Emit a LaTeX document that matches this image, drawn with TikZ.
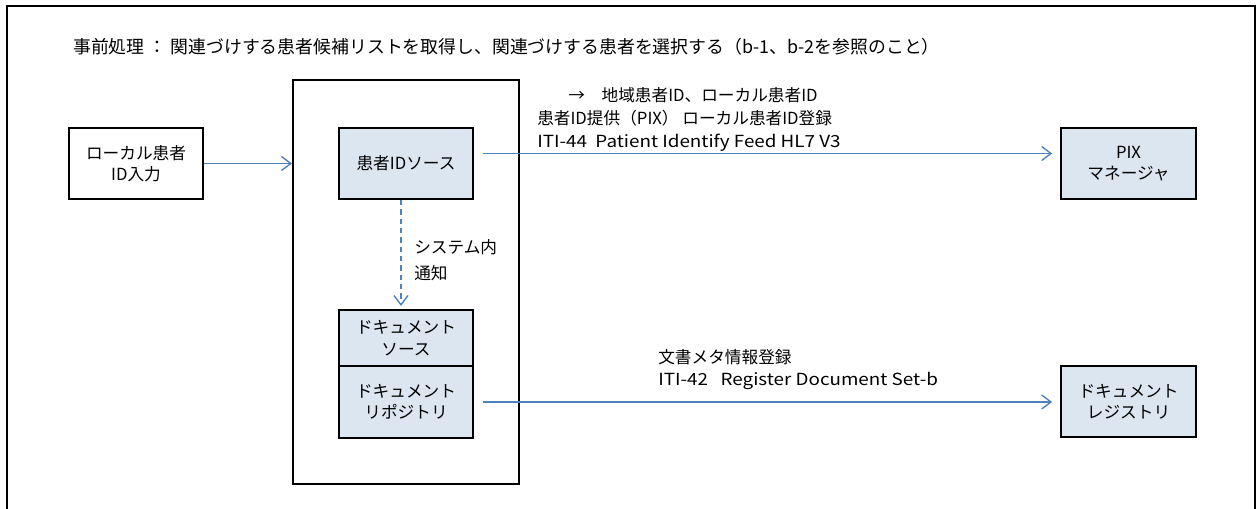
\documentclass[tikz,border=0pt]{standalone}
\usepackage{fontspec}
\setmainfont{Noto Sans CJK JP}
\newfontfamily\jpfont{Noto Sans CJK JP}
\usetikzlibrary{arrows.meta,calc}
\definecolor{boxfill}{HTML}{DCE6F1}
\definecolor{linkblue}{HTML}{4F81BD}
\newcommand{\widen}[1]{\scalebox{1.13}[1]{#1}}
\begin{document}
\begin{tikzpicture}[x=0.75pt,y=-0.75pt,
  actor/.style={draw=black,line width=1.6pt,fill=boxfill,minimum width=101pt,minimum height=53pt,align=center,font=\jpfont\fontsize{12.5}{16}\selectfont,inner sep=0pt},
  plainbox/.style={actor,fill=white},
  flow/.style={draw=linkblue,line width=1pt,-{Straight Barb[length=7pt,width=10.5pt,line width=1pt]}},
  lbl/.style={anchor=west,align=left,inner sep=0pt,font=\jpfont\fontsize{12.5}{20}\selectfont}
]
\useasboundingbox (0,0) rectangle (1258,508);
\fill[white] (0,0) rectangle (1258,508);
% outer frame (open at bottom)
\draw[line width=1.6pt] (7,520) -- (7,6) -- (1255,6) -- (1255,520);
% title
\node[lbl,font=\jpfont\fontsize{13.4}{16}\selectfont] (title) at (73,47) {事前処理 ： 関連づけする患者候補リストを取得し、関連づけする患者を選択する（b-1、b-2を参照のこと）};
% system box
\node[draw=black,line width=1.6pt,minimum width=169.5pt,minimum height=303pt,inner sep=0pt] (sys) at (406,282) {};
% boxes
\node[plainbox] (local) at (136,163.5) {ローカル患者\\ID入力};
\node[actor] (pidsrc) at (406,163.5) {患者IDソース};
\node[actor,minimum height=42pt] (docsrc) at (406,338) {ドキュメント\\ソース};
\node[actor,minimum height=54pt] (docrep) at (406,402) {ドキュメント\\リポジトリ};
\node[actor] (pix) at (1128.5,163.5) {PIX\\マネージャ};
\node[actor] (reg) at (1128.5,401.5) {ドキュメント\\レジストリ};
% connectors
\draw[flow] (local.east) -- (local.east -| sys.west);
\draw[flow] ($(pidsrc.east)+(9,-10)$) coordinate (p1) -- (p1 -| {$(pix.west)+(-8,0)$});
\draw[flow] ($(docrep.east)+(9,0)$) coordinate (p2) -- (p2 -| {$(reg.west)+(-8,0)$});
\draw[flow,dashed,dash pattern=on 4pt off 3pt] ($(pidsrc.south)+(-5,0)$) -- ($(docsrc.north)+(-5,-3)$);
% labels
\node[lbl] (l1) at (568,95) {→　地域患者ID、ローカル患者ID};
\node[lbl] (l2) at (537,118) {患者ID提供（PIX） ローカル患者ID登録};
\node[lbl] (l3) at (537,143) {\widen{ITI-44\ \ Patient Identify Feed HL7 V3}};
\node[lbl] (notif) at (414,260) {システム内\\通知};
\node[lbl] (l4) at (658,357) {文書メタ情報登録};
\node[lbl] (l5) at (658,381) {\widen{ITI-42\ \ \ Register Document Set-b}};
\end{tikzpicture}
\end{document}
